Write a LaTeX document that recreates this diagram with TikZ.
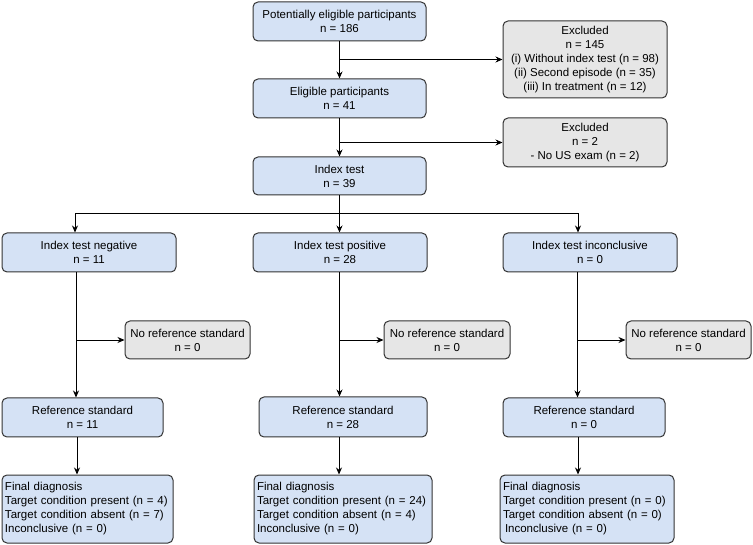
\documentclass[tikz,border=0pt]{standalone}
\usepackage{fontspec}
\setmainfont{Liberation Sans}
\usetikzlibrary{arrows.meta}
\definecolor{bluefill}{HTML}{D5E2F5}
\definecolor{grayfill}{HTML}{E6E6E6}
\definecolor{edge}{HTML}{333333}
\tikzset{
  box/.style={draw=edge, line width=1pt, rounded corners=5pt, inner sep=0pt,
    align=center, font=\fontsize{11.5}{14}\selectfont, text=black},
  bluebox/.style={box, fill=bluefill},
  graybox/.style={box, fill=grayfill},
  arr/.style={draw=black, line width=0.9pt, -{Stealth[length=7pt,width=6pt]}},
  ln/.style={draw=black, line width=0.9pt},
}
\begin{document}
\begin{tikzpicture}[x=1pt,y=-1pt]
\useasboundingbox (0,0) rectangle (753,545);
% main column
\node[bluebox, minimum width=173, minimum height=39] (A) at (339.5,21.5) {Potentially eligible participants\\n = 186};
\node[bluebox, minimum width=173, minimum height=39] (B) at (339.5,98.5) {Eligible participants\\n = 41};
\node[bluebox, minimum width=173, minimum height=38] (C) at (339.5,176) {Index test\\n = 39};
% exclusions
\node[graybox, minimum width=164, minimum height=77] (E1) at (585,59.5) {Excluded\\n = 145\\(i) Without index test (n = 98)\\(ii) Second episode (n = 35)\\(iii) In treatment (n = 12)};
\node[graybox, minimum width=164, minimum height=49] (E2) at (585,142.5) {Excluded\\n = 2\\- No US exam (n = 2)};
% index test results
\node[bluebox, minimum width=174, minimum height=39] (N) at (89,252.5) {Index test negative\\n = 11};
\node[bluebox, minimum width=174, minimum height=39] (P) at (340,252.5) {Index test positive\\n = 28};
\node[bluebox, minimum width=174, minimum height=39] (I) at (590,252.5) {Index test inconclusive\\n = 0};
% no reference standard
\node[graybox, minimum width=125, minimum height=38] (NR1) at (187.5,340) {No reference standard\\n = 0};
\node[graybox, minimum width=126, minimum height=38] (NR2) at (447,340) {No reference standard\\n = 0};
\node[graybox, minimum width=125, minimum height=38] (NR3) at (688.5,340) {No reference standard\\n = 0};
% reference standard
\node[bluebox, minimum width=161, minimum height=39] (R1) at (82.5,417.5) {Reference standard\\n = 11};
\node[bluebox, minimum width=168, minimum height=40] (R2) at (343,417) {Reference standard\\n = 28};
\node[bluebox, minimum width=162, minimum height=39] (R3) at (584,417.5) {Reference standard\\n = 0};
% final diagnosis
\node[bluebox, minimum width=171, minimum height=68, text width=165, align=left] (F1) at (87.5,509) {Final diagnosis\\Target condition present (n = 4)\\Target condition absent (n = 7)\\Inconclusive (n = 0)};
\node[bluebox, minimum width=178, minimum height=68, text width=172, align=left] (F2) at (343,509) {Final diagnosis\\Target condition present (n = 24)\\Target condition absent (n = 4)\\Inconclusive (n = 0)};
\node[bluebox, minimum width=174, minimum height=68, text width=168, align=left] (F3) at (587,509) {Final diagnosis\\Target condition present (n = 0)\\Target condition absent (n = 0)\\\hspace{2pt}Inconclusive (n = 0)};
% connectors main column
\draw[arr] (A.south) -- (B.north);
\draw[arr] (A.south |- E1.west) -- (E1.west);
\draw[arr] (B.south) -- (C.north);
\draw[arr] (B.south |- E2.west) -- (E2.west);
% split
\coordinate (split) at (339.5,213);
\draw[ln] (C.south) -- (split);
\draw[arr] (split) -| ([xshift=-14pt]N.north);
\draw[arr] (split) -- (split |- P.north);
\draw[arr] (split) -| ([xshift=-12pt]I.north);
% down columns
\draw[arr] ([xshift=-13pt]N.south) -- ([xshift=-13pt]N.south |- R1.north);
\draw[arr] ([xshift=-13pt]N.south |- NR1.west) -- (NR1.west);
\draw[arr] ([xshift=-0.5pt]P.south) -- ([xshift=-0.5pt]P.south |- R2.north);
\draw[arr] ([xshift=-0.5pt]P.south |- NR2.west) -- (NR2.west);
\draw[arr] ([xshift=-12.5pt]I.south) -- ([xshift=-12.5pt]I.south |- R3.north);
\draw[arr] ([xshift=-12.5pt]I.south |- NR3.west) -- (NR3.west);
% reference to final
\draw[arr] ([xshift=-5.5pt]R1.south) -- ([xshift=-5.5pt]R1.south |- F1.north);
\draw[arr] ([xshift=-4pt]R2.south) -- ([xshift=-4pt]R2.south |- F2.north);
\draw[arr] ([xshift=-6pt]R3.south) -- ([xshift=-6pt]R3.south |- F3.north);
\end{tikzpicture}
\end{document}
